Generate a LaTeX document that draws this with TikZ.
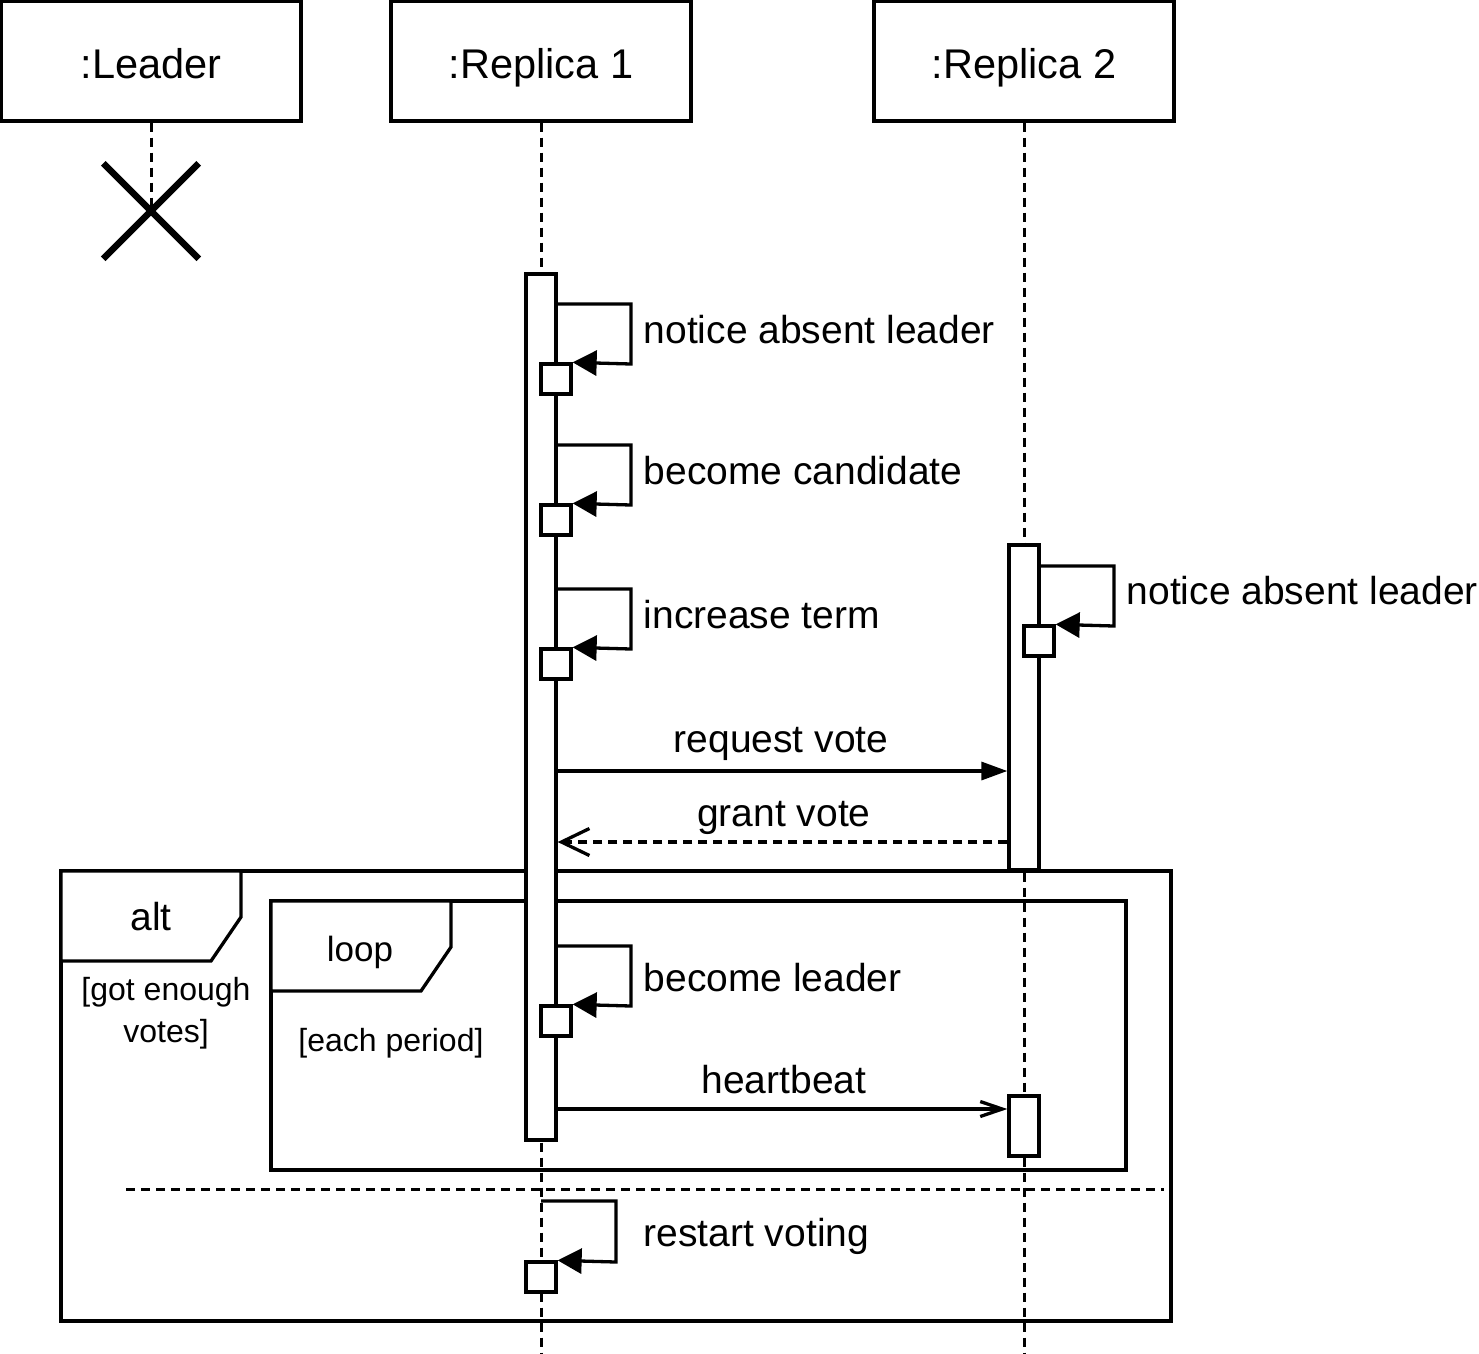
\documentclass[tikz,border=0pt]{standalone}
\usepackage{fontspec}
\setmainfont{Liberation Sans}
\usetikzlibrary{arrows.meta,calc,shapes.misc}
\begin{document}
\begin{tikzpicture}[x=1pt,y=-1pt,line width=3.3pt,
  head/.style={draw,fill=white,minimum width=300pt,minimum height=120pt,inner sep=0pt,
    text height=34pt,text depth=0pt,font=\fontsize{41.5}{49}\selectfont},
  actbar/.style={draw,fill=white,minimum width=30pt,inner sep=0pt},
  sbox/.style={draw,fill=white,minimum width=30pt,minimum height=30pt,inner sep=0pt},
  lbl/.style={font=\fontsize{39}{47}\selectfont,inner sep=0pt},
  guard/.style={font=\fontsize{32}{42}\selectfont,inner sep=0pt},
  lifeline/.style={dash pattern=on 9pt off 6pt,line width=3pt},
  selfmsg/.style={-{Triangle[length=24pt,width=25pt]}},
  callmsg/.style={-{Triangle[length=26pt,width=18pt]}},
  replymsg/.style={dash pattern=on 9pt off 6pt,-{Straight Barb[length=28pt,width=27pt]}},
  asyncmsg/.style={-{Straight Barb[length=22pt,width=15pt]}}]
\useasboundingbox (0,0) rectangle (1479,1353);

% frames
\draw (61,871) rectangle (1171,1321);
\draw[fill=white] (61,871) -- (241,871) -- (241,917) -- (211,961) -- (61,961) -- cycle;
\node[font=\fontsize{39}{47}\selectfont,inner sep=0pt,anchor=base] (altlbl) at (151,930) {alt};
\node[guard,anchor=base] (g1a) at (166,1000) {[got enough};
\node[guard,anchor=base] (g1b) at (166,1042) {votes]};
\draw (271,901) rectangle (1126,1170);
\draw[fill=white] (271,901) -- (451,901) -- (451,947) -- (421,991) -- (271,991) -- cycle;
\node[font=\fontsize{35}{42}\selectfont,inner sep=0pt,anchor=base] (looplbl) at (360,961) {loop};
\node[guard,anchor=base] (g2) at (391,1051) {[each period]};
\draw[lifeline] (126,1189) -- (1164,1189);

% heads
\node[head] (hL) at (151,61) {:Leader};
\node[head] (h1) at (541,61) {:Replica 1};
\node[head] (h2) at (1024,61) {:Replica 2};

% destruction
\node[cross out,draw,minimum size=89pt,inner sep=0pt,line width=6.5pt] (xx) at (151,211) {};

% lifelines
\draw[lifeline] (hL.south) -- (xx.center);
\coordinate (e1) at (541,1353);
\coordinate (e2) at (1024,1353);
\draw[lifeline] (h1.south) -- (e1);
\draw[lifeline] (h2.south) -- (e2);

% activation bars
\node[actbar,minimum height=866pt] (b1) at (541,707) {};
\node[actbar,minimum height=325pt] (b2) at (1024,707.5) {};
\node[actbar,minimum height=60pt] (b3) at (1024,1126) {};

% self messages on Replica 1
\node[sbox] (s1) at (556,379) {};
\node[sbox] (s2) at (556,520) {};
\node[sbox] (s3) at (556,664) {};
\node[sbox] (s4) at (556,1021) {};
\draw[selfmsg] (b1.east |- 0,304) -- (631,304) -- (631,364) -- (s1.north east);
\draw[selfmsg] (b1.east |- 0,445) -- (631,445) -- (631,505) -- (s2.north east);
\draw[selfmsg] (b1.east |- 0,589) -- (631,589) -- (631,649) -- (s3.north east);
\draw[selfmsg] (b1.east |- 0,946) -- (631,946) -- (631,1006) -- (s4.north east);
\node[lbl,anchor=base west] (t1) at (642,343) {notice absent leader};
\node[lbl,anchor=base west] (t2) at (642,484) {become candidate};
\node[lbl,anchor=base west] (t3) at (642,628) {increase term};
\node[lbl,anchor=base west] (t4) at (642,991) {become leader};

% self message on Replica 2
\node[sbox] (r2) at (1039,641) {};
\draw[selfmsg] (b2.east |- 0,566) -- (1114,566) -- (1114,626) -- (r2.north east);
\node[lbl,anchor=base west] (t5) at (1125,604) {notice absent leader};

% messages
\draw[callmsg] (b1.east |- 0,771) -- (b2.west |- 0,771);
\node[lbl,anchor=base] (t6) at (781,752) {request vote};
\draw[replymsg] (b2.west |- 0,842) -- (b1.east |- 0,842);
\node[lbl,anchor=base] (t7) at (784,826) {grant vote};
\draw[asyncmsg] (b1.east |- 0,1109) -- (b3.west |- 0,1109);
\node[lbl,anchor=base] (t8) at (784,1093) {heartbeat};

% restart voting
\node[sbox] (s5) at (541,1277) {};
\coordinate (rs) at (541,1201);
\draw[selfmsg] (rs) -- (616,1201) -- (616,1262) -- (s5.north east);
\node[lbl,anchor=base west] (t9) at (642,1246) {restart voting};
\end{tikzpicture}
\end{document}
